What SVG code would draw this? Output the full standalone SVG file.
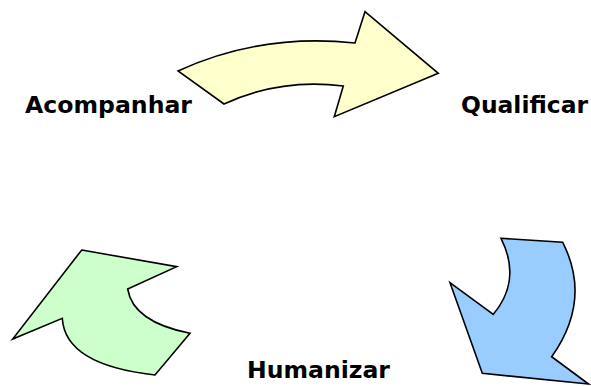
<svg xmlns="http://www.w3.org/2000/svg" width="591" height="386" viewBox="0 0 591 386">
<style>
.arrow{stroke:#000;stroke-width:1.6;stroke-linejoin:miter}
.lbl{font-family:"DejaVu Sans","Verdana",sans-serif;font-weight:bold;font-size:22.5px;fill:#000}
</style>
<rect width="591" height="386" fill="#fff"/>
<g id="arrow-top">
<path class="arrow" fill="#FFFFCC" d="M178,71 Q260,33 355,43 L365,11.7 L438.3,73.3 L334.3,116.7 L343.3,86 Q280,78 224,104 Z"/>
</g>
<g id="arrow-right">
<path class="arrow" fill="#99CCFF" d="M501,238.3 L562.7,242.3 Q592,300 551.7,356.7 L588.5,384 L482.3,373.3 L450,282.7 L493.3,314.3 Q522,280 501,238.3 Z"/>
</g>
<g id="arrow-left">
<path class="arrow" fill="#CCFFCC" d="M81.7,250 L176.7,266.7 L127.7,289 Q133,322 190,333.3 L155,375 Q65,365 62.3,318.3 L12.7,339 Z"/>
</g>
<g id="label-acompanhar">
<text class="lbl" x="25" y="113" textLength="167" lengthAdjust="spacingAndGlyphs">Acompanhar</text>
</g>
<g id="label-qualificar">
<text class="lbl" x="461" y="113" textLength="127" lengthAdjust="spacingAndGlyphs">Qualificar</text>
</g>
<g id="label-humanizar">
<text class="lbl" x="247" y="378" textLength="143" lengthAdjust="spacingAndGlyphs">Humanizar</text>
</g>
</svg>
